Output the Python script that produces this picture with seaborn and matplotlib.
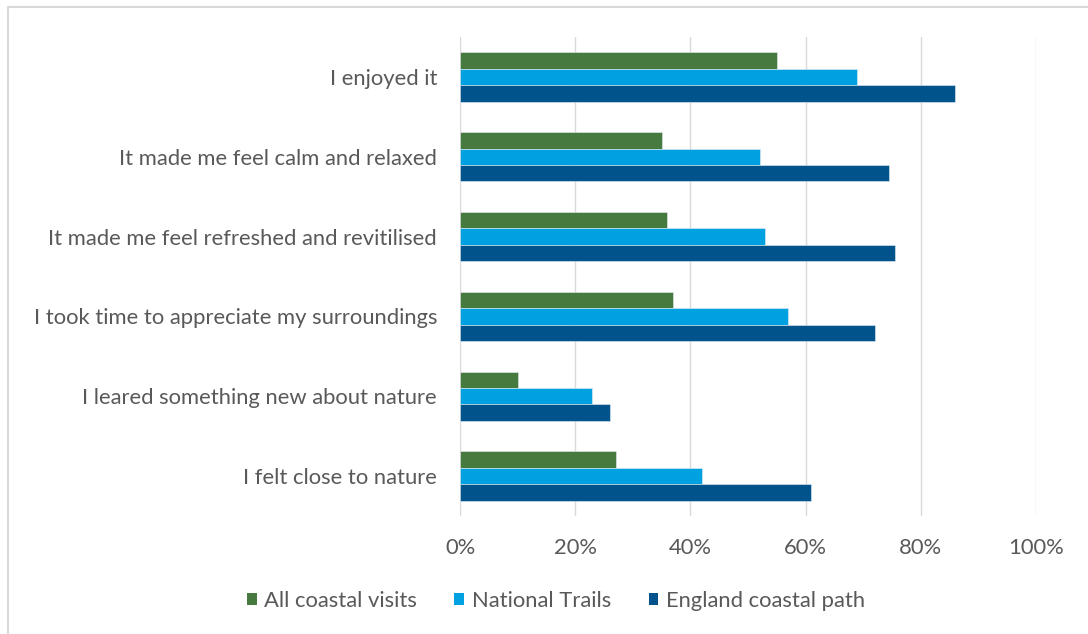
import matplotlib
matplotlib.use("Agg")
import matplotlib.pyplot as plt
import matplotlib.patches as mpatches
import pandas as pd
import seaborn as sns

# Survey responses: share of visitors agreeing with each statement
statements = [
    "I enjoyed it",
    "It made me feel calm and relaxed",
    "It made me feel refreshed and revitilised",
    "I took time to appreciate my surroundings",
    "I leared something new about nature",
    "I felt close to nature",
]
series = ["All coastal visits", "National Trails", "England coastal path"]
all_coastal = [55, 35, 36, 37, 10, 27]
national_trails = [69, 52, 53, 57, 23, 42]
england_coast_path = [86, 74.5, 75.5, 72, 26, 61]
x_ticks = [0, 20, 40, 60, 80, 100]
x_tick_labels = ["0%", "20%", "40%", "60%", "80%", "100%"]
colors = ["#477A3E", "#00A1E0", "#00548B"]

sns.set_theme(style="white")
plt.rcParams["font.family"] = ["Lato", "DejaVu Sans"]
text_color = "#595959"
grid_color = "#D9D9D9"
fsize = 15.8

df = pd.DataFrame({
    "statement": statements * 3,
    "series": [series[0]] * 6 + [series[1]] * 6 + [series[2]] * 6,
    "value": all_coastal + national_trails + england_coast_path,
})

fig = plt.figure(figsize=(10.88, 6.34), dpi=100)
ax = fig.add_axes([460 / 1088, 1 - 516 / 634, 576 / 1088, 479 / 634])

sns.barplot(
    data=df, y="statement", x="value", hue="series",
    order=statements, hue_order=series, palette=colors,
    orient="h", width=0.62, gap=0, saturation=1,
    edgecolor="#E8EEF2", linewidth=0.4, ax=ax, legend=False,
)

ax.set_xlim(0, 100)
ax.set_ylim(5.5, -0.5)
ax.set_xticks(x_ticks)
ax.set_xticklabels(x_tick_labels)
ax.set_xlabel("")
ax.set_ylabel("")
for s in ax.spines.values():
    s.set_visible(False)
ax.xaxis.grid(True, color=grid_color, linewidth=1)
ax.set_axisbelow(True)
ax.tick_params(axis="both", length=0, labelsize=fsize, colors=text_color)
ax.tick_params(axis="x", pad=16)
ax.tick_params(axis="y", pad=16.5)

handles = [mpatches.Patch(facecolor=c, edgecolor="none") for c in colors]
fig.legend(
    handles, series, loc="center", bbox_to_anchor=(556 / 1088, 1 - 601 / 634),
    ncol=3, frameon=False, fontsize=fsize, labelcolor=text_color,
    handlelength=0.45, handleheight=0.45, handletextpad=0.35, columnspacing=1.7,
)

# Chart-area frame
fig.add_artist(mpatches.Rectangle(
    (8 / 1088, -0.05), 1.2, 1 - 7 / 634 + 0.05,
    transform=fig.transFigure, fill=False, edgecolor="#D9D9D9", linewidth=1.5,
))

fig.savefig("out.png", dpi=100, facecolor="white")
